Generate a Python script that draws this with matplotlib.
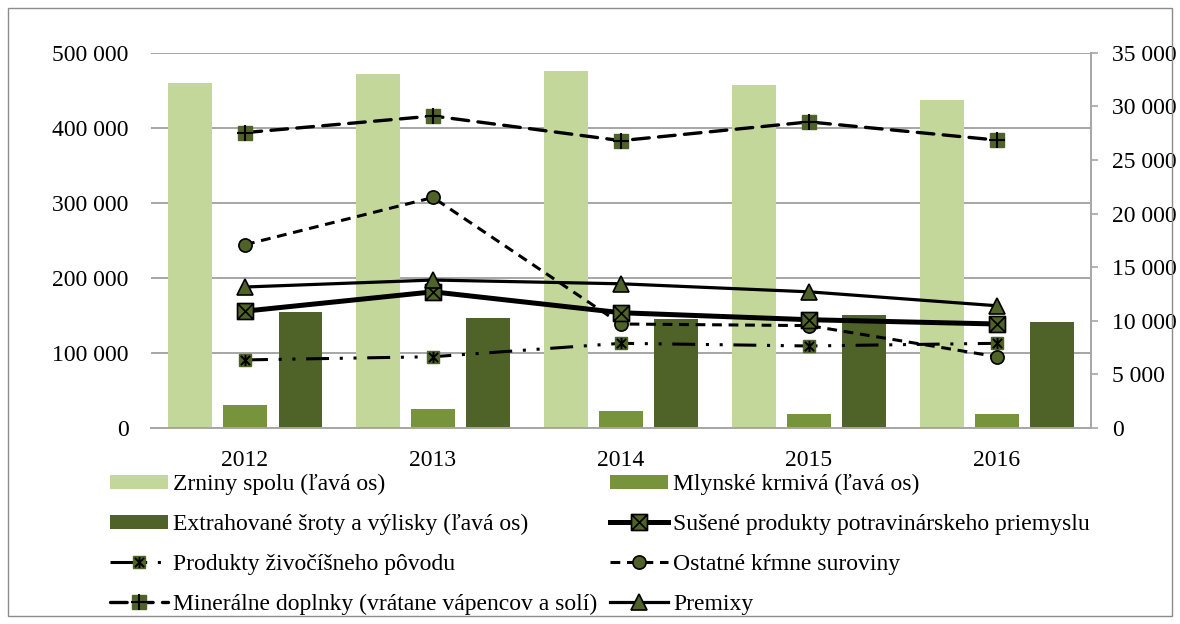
import numpy as np
import matplotlib.pyplot as plt
from matplotlib.path import Path
from matplotlib.patches import Rectangle
from matplotlib.legend_handler import HandlerTuple
from matplotlib.ticker import FuncFormatter, MultipleLocator

plt.rcParams['font.family'] = ['Liberation Serif', 'DejaVu Serif']

# --- data ---------------------------------------------------------------
years = ['2012', '2013', '2014', '2015', '2016']

# left axis (bars)
zrniny = [460000, 472000, 475000, 457000, 437000]
mlynske = [30000, 25000, 23000, 19000, 19000]
extrahovane = [154000, 147000, 145000, 150000, 141000]

# right axis (lines)
susene = [10900, 12700, 10750, 10100, 9700]
produkty = [6350, 6650, 7900, 7650, 7900]
ostatne = [17100, 21500, 9700, 9550, 6650]
mineralne = [27550, 29100, 26800, 28550, 26850]
premixy = [13150, 13800, 13450, 12700, 11400]

labels = {
    'zrniny': 'Zrniny spolu (ľavá os)',
    'mlynske': 'Mlynské krmivá (ľavá os)',
    'extrahovane': 'Extrahované šroty a výlisky (ľavá os)',
    'susene': 'Sušené produkty potravinárskeho priemyslu',
    'produkty': 'Produkty živočíšneho pôvodu',
    'ostatne': 'Ostatné kŕmne suroviny',
    'mineralne': 'Minerálne doplnky (vrátane vápencov a solí)',
    'premixy': 'Premixy',
}

# --- colours ------------------------------------------------------------
c_light = '#C4D79B'
c_mid = '#77933C'
c_dark = '#4F6228'
c_grid = '#A6A6A6'
FS = 17

# --- custom markers -----------------------------------------------------
box_x = Path(
    [(-1, -1), (1, -1), (1, 1), (-1, 1), (-1, -1),
     (-1, -1), (1, 1), (-1, 1), (1, -1)],
    [Path.MOVETO, Path.LINETO, Path.LINETO, Path.LINETO, Path.CLOSEPOLY,
     Path.MOVETO, Path.LINETO, Path.MOVETO, Path.LINETO])
asterisk = Path(
    [(-1, -1), (1, 1), (-1, 1), (1, -1), (0, -1.2), (0, 1.2)],
    [Path.MOVETO, Path.LINETO, Path.MOVETO, Path.LINETO,
     Path.MOVETO, Path.LINETO])

fmt = FuncFormatter(lambda v, p: f"{int(round(v)):,}".replace(',', ' '))

fig = plt.figure(figsize=(11.8, 6.24), dpi=100)
ax = fig.add_axes([0.128, 0.3141, 0.7966, 0.6014])
ax2 = ax.twinx()

x = np.arange(len(years))
bw = 0.234
off = 0.295
ax.bar(x - off, zrniny, bw, color=c_light, label=labels['zrniny'], zorder=2)
ax.bar(x, mlynske, bw, color=c_mid, label=labels['mlynske'], zorder=2)
ax.bar(x + off, extrahovane, bw, color=c_dark, label=labels['extrahovane'], zorder=2)

ax.set_xlim(-0.5, len(years) - 0.5)
ax.set_ylim(0, 500000)
ax.yaxis.set_major_locator(MultipleLocator(100000))
ax.yaxis.set_major_formatter(fmt)
ax.set_xticks(x)
ax.set_xticklabels(years)
ax.yaxis.grid(True, color=c_grid, lw=1.4)
ax.set_axisbelow(True)
for s in ('top', 'left', 'right'):
    ax.spines[s].set_visible(False)
ax.spines['bottom'].set_color(c_grid)
ax.spines['bottom'].set_linewidth(1.4)
ax.tick_params(axis='y', length=0, pad=16, labelsize=FS)
ax.tick_params(axis='x', length=0, pad=16, labelsize=FS)

# --- lines on the right axis -------------------------------------------
l_sus, = ax2.plot(x, susene, color='black', lw=3.6, marker=box_x, ms=11.5,
                  mfc=c_dark, mec='black', mew=1.2, zorder=4)

l_prod, = ax2.plot(x, produkty, color='black', lw=2.2,
                   dashes=(7.5, 3.5, 1.0, 3.5, 1.0, 3.5),
                   marker='s', ms=9, mfc=c_dark, mec=c_dark, zorder=3)
m_prod, = ax2.plot(x, produkty, ls='none', marker=asterisk, ms=8,
                   mfc='none', mec='black', mew=1.4, zorder=3.1)

l_ost, = ax2.plot(x, ostatne, color='black', lw=2.2, dashes=(3.2, 2.2),
                  marker='o', ms=9.5, mfc=c_dark, mec='black', mew=1.2, zorder=3)

l_min, = ax2.plot(x, mineralne, color='black', lw=2.4, dashes=(5, 2.8),
                  dash_capstyle='round',
                  marker='s', ms=9.5, mfc=c_dark, mec=c_dark, zorder=3)
m_min, = ax2.plot(x, mineralne, ls='none', marker='+', ms=11,
                  mec='black', mew=1.5, zorder=3.1)

l_pre, = ax2.plot(x, premixy, color='black', lw=2.3, marker='^', ms=12,
                  mfc=c_dark, mec='black', mew=1.2, zorder=4)

ax2.set_ylim(0, 35000)
ax2.yaxis.set_major_locator(MultipleLocator(5000))
ax2.yaxis.set_major_formatter(fmt)
for s in ('top', 'left', 'bottom'):
    ax2.spines[s].set_visible(False)
ax2.spines['right'].set_color(c_grid)
ax2.spines['right'].set_linewidth(1.4)
ax2.tick_params(axis='y', direction='out', length=5, width=1.2,
                color=c_grid, pad=10, labelsize=FS)

# --- legend -------------------------------------------------------------
bars = ax.containers
handles = [bars[0], bars[2], (l_prod, m_prod), (l_min, m_min),
           bars[1], l_sus, l_ost, l_pre]
names = [labels['zrniny'], labels['extrahovane'], labels['produkty'],
         labels['mineralne'], labels['mlynske'], labels['susene'],
         labels['ostatne'], labels['premixy']]
fig.legend(handles, names, ncol=2, loc='upper left',
           bbox_to_anchor=(110 / 1180, 1 - 474 / 624),
           frameon=False, fontsize=FS, handlelength=2.45, handletextpad=0.22,
           columnspacing=0.55, labelspacing=0.8, borderpad=0,
           borderaxespad=0, handleheight=0.55,
           handler_map={tuple: HandlerTuple(ndivide=1, pad=0)})

# outer frame of the figure
fig.patches.append(Rectangle((8 / 1180, 8 / 624), 1164 / 1180, 608 / 624,
                             transform=fig.transFigure, fill=False,
                             ec='#8C8C8C', lw=1.0))

fig.savefig('out.png', dpi=100)
